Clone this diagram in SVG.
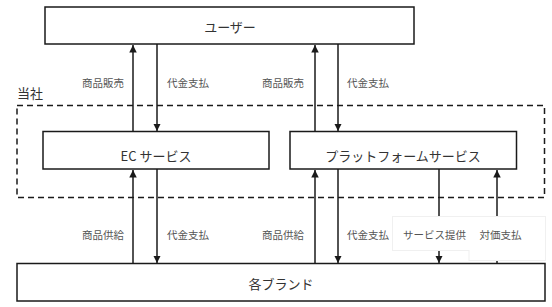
<svg xmlns="http://www.w3.org/2000/svg" width="552" height="307" viewBox="0 0 552 307">
<style>
.box{fill:#fff;stroke:#1a1a1a;stroke-width:1.5}
.dash{fill:none;stroke:#1a1a1a;stroke-width:1.5;stroke-dasharray:6,4}
.ln{stroke:#1a1a1a;stroke-width:1.5;fill:none}
.t{font-family:"Noto Sans CJK JP","Liberation Serif",sans-serif;font-size:13px;fill:#333;text-anchor:middle;dominant-baseline:central}
.l{font-family:"Noto Sans CJK JP","Liberation Serif",sans-serif;font-size:10.5px;fill:#555;text-anchor:middle;dominant-baseline:central}
.lb{fill:#fff;stroke:#f0f0f0;stroke-width:1}
</style>
<defs>
<marker id="ah" viewBox="0 0 10 10" refX="10" refY="5" markerWidth="5" markerHeight="5.5" orient="auto" markerUnits="strokeWidth">
<path d="M0,0 L10,5 L0,10 z" fill="#1a1a1a"/>
</marker>
</defs>
<g id="company">
<rect class="dash" x="17" y="105.5" width="527.5" height="92"/>
<text class="t" x="30" y="92">当社</text>
</g>
<g id="user">
<rect class="box" x="45" y="7" width="369" height="37"/>
<text class="t" x="230" y="26">ユーザー</text>
</g>
<g id="ec">
<rect class="box" x="43" y="131.5" width="226" height="37.5"/>
<text class="t" x="156" y="155">EC サービス</text>
</g>
<g id="platform">
<rect class="box" x="290" y="131.5" width="226.5" height="37.5"/>
<text class="t" x="403" y="155">プラットフォームサービス</text>
</g>
<g id="brands">
<rect class="box" x="17" y="263.5" width="528" height="37.5"/>
<text class="t" x="281" y="283">各ブランド</text>
</g>
<g id="connectors">
<line class="ln" x1="133" y1="131.5" x2="133" y2="45" marker-end="url(#ah)"/>
<line class="ln" x1="157" y1="44" x2="157" y2="131" marker-end="url(#ah)"/>
<line class="ln" x1="315" y1="131.5" x2="315" y2="45" marker-end="url(#ah)"/>
<line class="ln" x1="338" y1="44" x2="338" y2="131" marker-end="url(#ah)"/>
<line class="ln" x1="133" y1="263.5" x2="133" y2="170" marker-end="url(#ah)"/>
<line class="ln" x1="157" y1="169" x2="157" y2="263" marker-end="url(#ah)"/>
<line class="ln" x1="315" y1="263.5" x2="315" y2="170" marker-end="url(#ah)"/>
<line class="ln" x1="338" y1="169" x2="338" y2="263" marker-end="url(#ah)"/>
<line class="ln" x1="439" y1="169" x2="439" y2="263" marker-end="url(#ah)"/>
<line class="ln" x1="497" y1="263.5" x2="497" y2="170" marker-end="url(#ah)"/>
</g>
<g id="labels">
<text class="l" x="103" y="82">商品販売</text>
<text class="l" x="188" y="82">代金支払</text>
<text class="l" x="283" y="82">商品販売</text>
<text class="l" x="368" y="82">代金支払</text>
<text class="l" x="103" y="234">商品供給</text>
<text class="l" x="188" y="234">代金支払</text>
<text class="l" x="283" y="234">商品供給</text>
<text class="l" x="368" y="234">代金支払</text>
<rect class="lb" x="392.5" y="216.5" width="77" height="34"/>
<rect class="lb" x="469" y="216.5" width="76.5" height="44"/>
<rect x="468" y="217" width="3" height="33" fill="#fff"/>
<text class="l" x="434.5" y="234">サービス提供</text>
<text class="l" x="500.5" y="234">対価支払</text>
</g>
</svg>
